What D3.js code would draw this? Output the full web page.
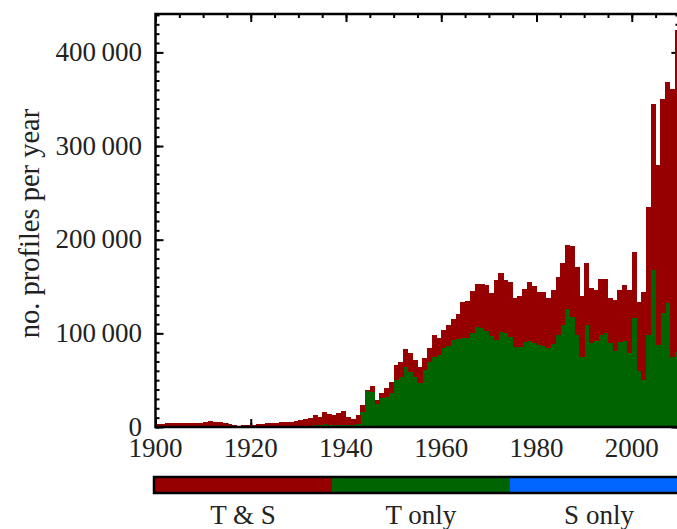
<!DOCTYPE html>
<html>
<head>
<meta charset="utf-8">
<script src="https://cdn.jsdelivr.net/npm/d3@7"></script>
<style>
  body { margin: 0; background: #fff; }
  svg { display: block; font-family: "Liberation Serif", "Times New Roman", serif; }
</style>
</head>
<body>
<div id="chart"></div>
<script>
// profiles per year, 1900 .. 2009
let years = d3.range(1900, 2010);

// T only (bottom, green)
let tOnly = [
  1200, 1300, 1300, 1200, 1200, 1300, 1400, 1300, 1400, 1300,
  1200, 1400, 1300, 1200, 1000, 800, 500, 400, 400, 500,
  600, 700, 700, 800, 900, 1000, 1000, 1100, 1200, 1300,
  1400, 1500, 1600, 1800, 2000, 3500, 2500, 2000, 2000, 2200,
  2000, 1800, 3000, 16400, 38500, 37000, 24500, 30600, 32400, 35900,
  50200, 53700, 63700, 59000, 53700, 47300, 60800, 69700, 75000, 76800,
  83900, 86400, 92800, 93500, 94600, 95000, 100000, 106400, 105300, 102800,
  97100, 92800, 101700, 100000, 95700, 85700, 85000, 91000, 92100, 89300,
  87500, 86400, 83900, 88600, 98200, 108800, 125600, 117700, 98200, 74300,
  108800, 90000, 92000, 98000, 100800, 89300, 81100, 91000, 92100, 78600,
  116000, 59800, 50200, 98200, 167500, 87500, 121300, 132000, 75000, 80000
];

// T & S (stacked on top, red)
let tAndS = [
  1800, 2200, 2500, 2700, 2800, 3000, 3100, 3100, 3200, 3400,
  3800, 5000, 4100, 4100, 3300, 2100, 1300, 1200, 1300, 1500,
  2000, 2500, 2600, 3200, 3300, 3700, 4000, 4400, 4400, 4900,
  5600, 6900, 8100, 10700, 8800, 12500, 11800, 11300, 12500, 14600,
  9000, 6500, 10000, 7100, 1500, 6500, 4300, 5300, 8900, 12500,
  16000, 16000, 19200, 19600, 17800, 17100, 12500, 14200, 23200, 17800,
  19600, 22400, 22100, 27500, 39100, 39800, 45500, 46200, 47300, 48700,
  45500, 64100, 63000, 56900, 59300, 51600, 54800, 55900, 62900, 61500,
  56900, 58000, 53400, 57600, 61500, 66600, 68300, 75500, 72200, 65500,
  65900, 58000, 54200, 59600, 56800, 48000, 54400, 55200, 59400, 67600,
  70400, 73900, 94200, 136900, 177900, 192100, 229400, 236500, 286400, 344000
];

let xMajor = [1900, 1920, 1940, 1960, 1980, 2000];
let yMajor = [0, 100000, 200000, 300000, 400000];
let legendLabels = ["T & S", "T only", "S only"];
let legendColors = ["#960000", "#006400", "#0066ff"];

let width = 677, height = 529;
let fs = 27;

let svg = d3.select("#chart").append("svg")
    .attr("width", width)
    .attr("height", height);

let x = d3.scaleLinear().domain([1900, 2010]).range([155.5, 679.4]);
let y = d3.scaleLinear().domain([0, 441000]).range([427, 14]);

let fmt = d3.formatLocale({ decimal: ".", thousands: "\u2009", grouping: [3], currency: ["", ""] }).format(",");

// ticks go inward, drawn under the bars
function ticks(axis, tr) {
  let g = svg.append("g").attr("transform", tr).call(axis);
  g.select(".domain").remove();
  g.selectAll("line").attr("stroke-width", 2);
  return g;
}

let xMinor = d3.range(1900, 2011, 5);
let yMinor = d3.range(0, 441000, 10000);

// bottom / top
ticks(d3.axisBottom(x).tickValues(xMinor).tickSize(-4).tickFormat(""), `translate(0,${y(0)})`);
ticks(d3.axisBottom(x).tickValues(xMajor).tickSize(-8).tickFormat(""), `translate(0,${y(0)})`);
ticks(d3.axisTop(x).tickValues(xMinor).tickSize(-4).tickFormat(""), `translate(0,${y.range()[1]})`);
ticks(d3.axisTop(x).tickValues(xMajor).tickSize(-8).tickFormat(""), `translate(0,${y.range()[1]})`);
// left / right
ticks(d3.axisLeft(y).tickValues(yMinor).tickSize(-4).tickFormat(""), `translate(${x(1900)},0)`);
ticks(d3.axisLeft(y).tickValues(yMajor).tickSize(-8).tickFormat(""), `translate(${x(1900)},0)`);
ticks(d3.axisRight(y).tickValues(yMinor).tickSize(-4).tickFormat(""), `translate(${x(2010)},0)`);
ticks(d3.axisRight(y).tickValues(yMajor).tickSize(-8).tickFormat(""), `translate(${x(2010)},0)`);

// stacked bars
let rows = years.map((yr, i) => ({ year: yr, tOnly: tOnly[i], tAndS: tAndS[i] }));
let stack = d3.stack().keys(["tOnly", "tAndS"])(rows);
let fillOf = { tOnly: "#006400", tAndS: "#960000" };

svg.append("g")
  .selectAll("g")
  .data(stack)
  .join("g")
    .attr("fill", d => fillOf[d.key])
  .selectAll("rect")
  .data(d => d)
  .join("rect")
    .attr("shape-rendering", "crispEdges")
    .attr("x", d => x(d.data.year))
    .attr("width", d => x(d.data.year + 1) - x(d.data.year) + 0.4)
    .attr("y", d => y(d[1]))
    .attr("height", d => y(d[0]) - y(d[1]));

// frame
svg.append("rect")
    .attr("x", x(1900))
    .attr("y", y.range()[1])
    .attr("width", x(2010) - x(1900))
    .attr("height", y(0) - y.range()[1])
    .attr("fill", "none")
    .attr("stroke", "#000")
    .attr("stroke-width", 2.5);

// tick labels
svg.append("g")
    .attr("font-size", fs)
    .attr("text-anchor", "end")
  .selectAll("text")
  .data(yMajor)
  .join("text")
    .attr("x", 142)
    .attr("y", d => y(d))
    .attr("dy", "0.32em")
    .attr("fill", "#222")
    .text(d => fmt(d));

svg.append("g")
    .attr("font-size", fs)
    .attr("text-anchor", "middle")
  .selectAll("text")
  .data(xMajor)
  .join("text")
    .attr("x", d => x(d))
    .attr("y", 457)
    .attr("fill", "#222")
    .text(d => d);

svg.append("text")
    .attr("transform", `translate(39,${(y(0) + y.range()[1]) / 2 + 3}) rotate(-90)`)
    .attr("text-anchor", "middle")
    .attr("font-size", 28.5)
    .attr("fill", "#222")
    .text("no. profiles per year");

// colour key under the plot
let key = d3.scaleBand().domain(legendLabels).range([154, 154 + 534]);

svg.append("g")
  .selectAll("rect")
  .data(legendLabels)
  .join("rect")
    .attr("x", d => key(d))
    .attr("y", 477)
    .attr("width", key.bandwidth())
    .attr("height", 16)
    .attr("fill", (d, i) => legendColors[i]);

svg.append("rect")
    .attr("x", key.range()[0])
    .attr("y", 477)
    .attr("width", key.range()[1] - key.range()[0])
    .attr("height", 16)
    .attr("fill", "none")
    .attr("stroke", "#000")
    .attr("stroke-width", 2.5);

svg.append("g")
    .attr("font-size", fs)
    .attr("text-anchor", "middle")
  .selectAll("text")
  .data(legendLabels)
  .join("text")
    .attr("x", d => key(d) + key.bandwidth() / 2)
    .attr("y", 524)
    .attr("fill", "#222")
    .text(d => d);
</script>
</body>
</html>
